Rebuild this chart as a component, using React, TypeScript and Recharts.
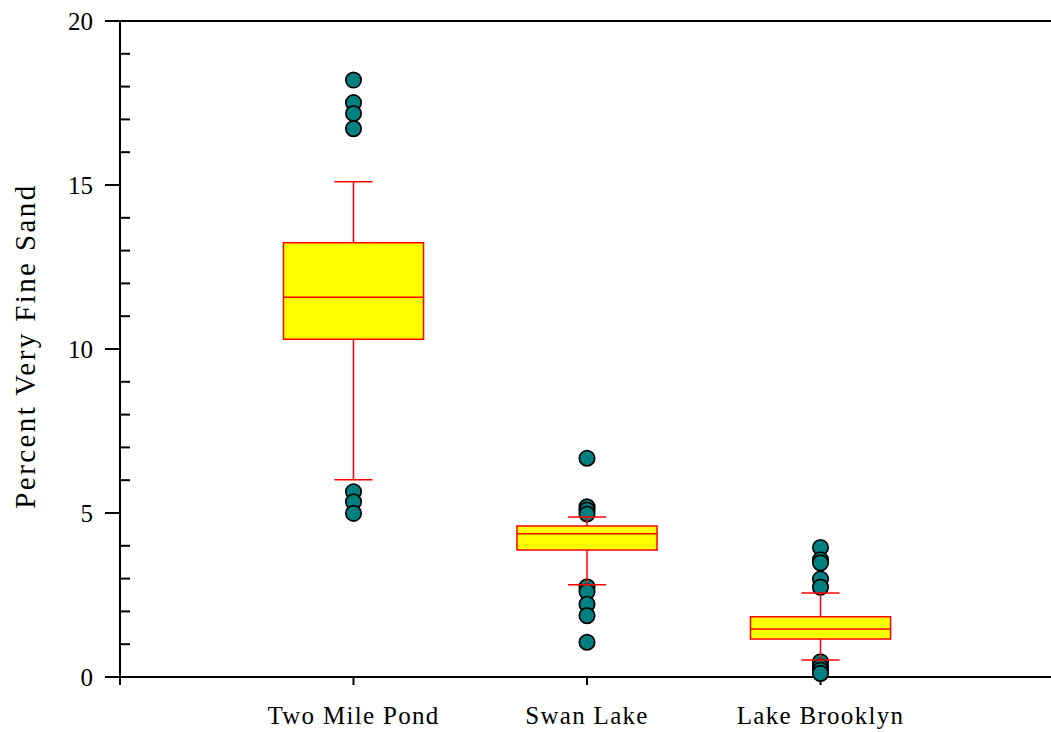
import React from 'react';
import {
  ComposedChart,
  XAxis,
  YAxis,
  Scatter,
  ReferenceArea,
  ReferenceLine,
} from 'recharts';

// Sites along the x axis (placed at 1, 2, 3 on a 0–4 axis)
const sites = ['Two Mile Pond', 'Swan Lake', 'Lake Brooklyn'];

// Box statistics for each site (percent very fine sand)
const q1 = [10.3, 3.87, 1.16];
const median = [11.58, 4.37, 1.46];
const q3 = [13.24, 4.6, 1.84];
const whiskerLow = [6.01, 2.81, 0.52];
const whiskerHigh = [15.1, 4.88, 2.56];

// Outlying observations for each site
const outliersTwoMile = [18.2, 17.51, 17.18, 16.72, 5.65, 5.34, 4.99];
const outliersSwan = [6.67, 5.19, 5.09, 4.97, 2.75, 2.6, 2.22, 1.87, 1.06];
const outliersBrooklyn = [3.95, 3.57, 3.48, 2.99, 2.74, 0.46, 0.31, 0.21, 0.11];

const yTicks = [0, 5, 10, 15, 20];
const yMinorStep = 1;

const FONT = 'Liberation Serif, Times New Roman, Times, serif';
const BOX_HALF = 0.3;
const CAP_HALF = 0.0815;
const RED = '#ff0000';

const allTicks: number[] = [];
for (let v = yTicks[0]; v <= yTicks[yTicks.length - 1]; v += yMinorStep) allTicks.push(v);

const outlierData = [outliersTwoMile, outliersSwan, outliersBrooklyn].flatMap((vals, i) =>
  vals.map((y) => ({ x: i + 1, y }))
);

const isMajor = (v: number) => yTicks.includes(v);

const textStyle = { fontFamily: FONT };

const LeftTick = (props: any) => {
  const { x, y, payload } = props;
  const v = payload.value;
  if (isMajor(v)) {
    return (
      <g>
        <line x1={x - 15} x2={x} y1={y} y2={y} stroke="#000" strokeWidth={2} />
        <text
          x={x - 27}
          y={y}
          textAnchor="end"
          dominantBaseline="central"
          style={textStyle}
          fontSize={25}
          fill="#000"
        >
          {v}
        </text>
      </g>
    );
  }
  return <line x1={x} x2={x + 10} y1={y} y2={y} stroke="#000" strokeWidth={2} />;
};

const RightTick = (props: any) => {
  const { x, y, payload } = props;
  const v = payload.value;
  if (isMajor(v)) {
    return <line x1={x} x2={x + 15} y1={y} y2={y} stroke="#000" strokeWidth={2} />;
  }
  return <line x1={x - 10} x2={x} y1={y} y2={y} stroke="#000" strokeWidth={2} />;
};

const BottomTick = (props: any) => {
  const { x, y, payload } = props;
  const name = sites[payload.value - 1];
  if (!name) return <g />;
  return (
    <text
      x={x}
      y={y}
      dy="0.71em"
      textAnchor="middle"
      style={textStyle}
      fontSize={25}
      letterSpacing={1.3}
      fill="#000"
    >
      {name}
    </text>
  );
};

const Dot = (props: any) => {
  const { cx, cy } = props;
  return <circle cx={cx} cy={cy} r={7.7} fill="#008080" stroke="#000" strokeWidth={1.7} />;
};

const YLabel = (props: any) => {
  const vb = props.viewBox || { x: 0, y: 21, width: 120, height: 656 };
  const cx = vb.x + 25;
  const cy = vb.y + vb.height / 2 - 3;
  return (
    <text
      x={cx}
      y={cy}
      transform={`rotate(-90, ${cx}, ${cy})`}
      textAnchor="middle"
      dominantBaseline="central"
      style={textStyle}
      fontSize={29}
      letterSpacing={2.4}
      fill="#000"
    >
      Percent Very Fine Sand
    </text>
  );
};

export default function App() {
  return (
    <div
      style={{
        position: 'fixed',
        left: 0,
        top: 0,
        width: 1051,
        height: 732,
        overflow: 'hidden',
        background: '#fff',
      }}
    >
      <ComposedChart
        width={1062}
        height={732}
        margin={{ top: 21, right: 0, bottom: 0, left: 0 }}
      >
        <XAxis
          dataKey="x"
          type="number"
          domain={[0, 4]}
          ticks={[0, 1, 2, 3, 4]}
          interval={0}
          height={55}
          tickSize={8}
          tickMargin={21}
          axisLine={{ stroke: '#000', strokeWidth: 2 }}
          tickLine={{ stroke: '#000', strokeWidth: 2 }}
          tick={BottomTick}
        />
        <YAxis
          dataKey="y"
          type="number"
          domain={[0, 20]}
          ticks={allTicks}
          interval={0}
          width={120}
          tickSize={0}
          tickMargin={0}
          tickLine={false}
          axisLine={{ stroke: '#000', strokeWidth: 2 }}
          tick={LeftTick}
          label={<YLabel />}
        />
        <YAxis
          yAxisId="right"
          orientation="right"
          type="number"
          domain={[0, 20]}
          ticks={allTicks}
          interval={0}
          width={8}
          tickSize={0}
          tickMargin={0}
          tickLine={false}
          axisLine={{ stroke: '#000', strokeWidth: 2 }}
          tick={RightTick}
        />
        <ReferenceLine y={20} stroke="#000" strokeWidth={2} />

        <Scatter data={outlierData} shape={<Dot />} isAnimationActive={false} />

        {sites.map((s, i) => (
          <ReferenceArea
            key={`box-${s}`}
            x1={i + 1 - BOX_HALF}
            x2={i + 1 + BOX_HALF}
            y1={q1[i]}
            y2={q3[i]}
            fill="#ffff00"
            fillOpacity={1}
            stroke={RED}
            strokeWidth={1.5}
            zIndex={1500}
          />
        ))}
        {sites.map((s, i) => (
          <ReferenceLine
            key={`med-${s}`}
            segment={[
              { x: i + 1 - BOX_HALF, y: median[i] },
              { x: i + 1 + BOX_HALF, y: median[i] },
            ]}
            stroke={RED}
            strokeWidth={1.5}
            zIndex={1600}
          />
        ))}
        {sites.map((s, i) => (
          <ReferenceLine
            key={`wu-${s}`}
            segment={[
              { x: i + 1, y: q3[i] },
              { x: i + 1, y: whiskerHigh[i] },
            ]}
            stroke={RED}
            strokeWidth={1.5}
            zIndex={1600}
          />
        ))}
        {sites.map((s, i) => (
          <ReferenceLine
            key={`wl-${s}`}
            segment={[
              { x: i + 1, y: q1[i] },
              { x: i + 1, y: whiskerLow[i] },
            ]}
            stroke={RED}
            strokeWidth={1.5}
            zIndex={1600}
          />
        ))}
        {sites.map((s, i) => (
          <ReferenceLine
            key={`cu-${s}`}
            segment={[
              { x: i + 1 - CAP_HALF, y: whiskerHigh[i] },
              { x: i + 1 + CAP_HALF, y: whiskerHigh[i] },
            ]}
            stroke={RED}
            strokeWidth={1.5}
            zIndex={1600}
          />
        ))}
        {sites.map((s, i) => (
          <ReferenceLine
            key={`cl-${s}`}
            segment={[
              { x: i + 1 - CAP_HALF, y: whiskerLow[i] },
              { x: i + 1 + CAP_HALF, y: whiskerLow[i] },
            ]}
            stroke={RED}
            strokeWidth={1.5}
            zIndex={1600}
          />
        ))}
      </ComposedChart>
    </div>
  );
}
